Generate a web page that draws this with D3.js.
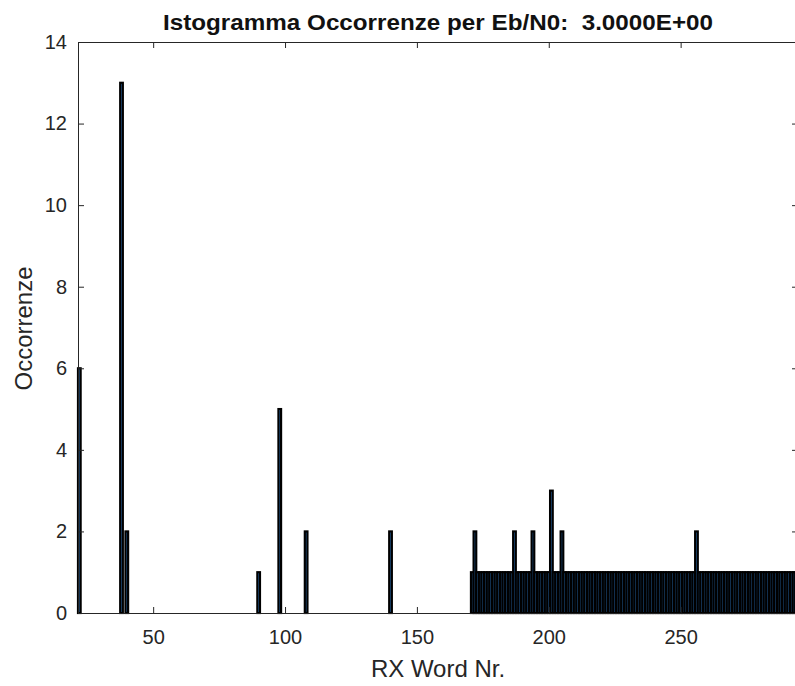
<!DOCTYPE html>
<html>
<head>
<meta charset="utf-8">
<script src="https://cdn.jsdelivr.net/npm/d3@7"></script>
<style>
  body { margin: 0; background: #fff; }
  text { font-family: "Liberation Sans", Arial, Helvetica, sans-serif; }
</style>
</head>
<body>
<div id="chart"></div>
<script>
// data (word number -> occurrences)
var wordNr = [22, 38, 40, 90, 98, 108, 140,
  171, 172, 173, 174, 175, 176, 177, 178, 179, 180,
  181, 182, 183, 184, 185, 186, 187, 188, 189, 190,
  191, 192, 193, 194, 195, 196, 197, 198, 199, 200,
  201, 202, 203, 204, 205, 206, 207, 208, 209, 210,
  211, 212, 213, 214, 215, 216, 217, 218, 219, 220,
  221, 222, 223, 224, 225, 226, 227, 228, 229, 230,
  231, 232, 233, 234, 235, 236, 237, 238, 239, 240,
  241, 242, 243, 244, 245, 246, 247, 248, 249, 250,
  251, 252, 253, 254, 255, 256, 257, 258, 259, 260,
  261, 262, 263, 264, 265, 266, 267, 268, 269, 270,
  271, 272, 273, 274, 275, 276, 277, 278, 279, 280,
  281, 282, 283, 284, 285, 286, 287, 288, 289, 290,
  291, 292, 293, 294];
var occorrenze = [6, 13, 2, 1, 5, 2, 2,
  1, 2, 1, 1, 1, 1, 1, 1, 1, 1,
  1, 1, 1, 1, 1, 1, 2, 1, 1, 1,
  1, 1, 1, 2, 1, 1, 1, 1, 1, 1,
  3, 1, 1, 1, 2, 1, 1, 1, 1, 1,
  1, 1, 1, 1, 1, 1, 1, 1, 1, 1,
  1, 1, 1, 1, 1, 1, 1, 1, 1, 1,
  1, 1, 1, 1, 1, 1, 1, 1, 1, 1,
  1, 1, 1, 1, 1, 1, 1, 1, 1, 1,
  1, 1, 1, 1, 1, 2, 1, 1, 1, 1,
  1, 1, 1, 1, 1, 1, 1, 1, 1, 1,
  1, 1, 1, 1, 1, 1, 1, 1, 1, 1,
  1, 1, 1, 1, 1, 1, 1, 1, 1, 1,
  1, 1, 1, 1];
var xTicks = [50, 100, 150, 200, 250];
var yTicks = [0, 2, 4, 6, 8, 10, 12, 14];
var titolo = "Istogramma Occorrenze per Eb/N0:  3.0000E+00";

var width = 795, height = 686;
// plot box (right edge is just past the window, as in the screenshot)
var pLeft = 78, pRight = 798, pTop = 42, pBottom = 613;
var axisColor = "#262626";

var svg = d3.select("#chart").append("svg").attr("width", width).attr("height", height);

var x = d3.scaleLinear().domain([21.5, 294.5]).range([pLeft, pRight]);
var y = d3.scaleLinear().domain([0, 14]).range([pBottom, pTop]);

var data = wordNr.map(function (w, i) { return { w: w, c: occorrenze[i] }; });

// bars - thick black edges, only a sliver of the blue face shows
svg.append("g").selectAll("rect").data(data).enter().append("rect")
  .attr("x", function (d) { return x(d.w - 0.5); })
  .attr("width", function (d) { return x(d.w + 0.5) - x(d.w - 0.5); })
  .attr("y", function (d) { return y(d.c); })
  .attr("height", function (d) { return y(0) - y(d.c); })
  .attr("fill", "#2b6fb5")
  .attr("stroke", "#000")
  .attr("stroke-width", 2.2);

// axes, ticks pointing inward like matlab
var tickStyle = function (g) {
  g.selectAll("path").attr("stroke", axisColor);
  g.selectAll("line").attr("stroke", axisColor);
  g.selectAll("text").attr("fill", axisColor).style("font-size", "20px");
};
svg.append("g").attr("transform", "translate(0," + pBottom + ")")
  .call(d3.axisBottom(x).tickValues(xTicks).tickSizeInner(-6).tickSizeOuter(0).tickPadding(17))
  .call(tickStyle);
svg.append("g").attr("transform", "translate(0," + pTop + ")")
  .call(d3.axisTop(x).tickValues(xTicks).tickSizeInner(-6).tickSizeOuter(0).tickFormat(""))
  .call(tickStyle);
svg.append("g").attr("transform", "translate(" + pLeft + ",0)")
  .call(d3.axisLeft(y).tickValues(yTicks).tickSizeInner(-6).tickSizeOuter(0).tickPadding(11))
  .call(tickStyle);
svg.append("g").attr("transform", "translate(" + pRight + ",0)")
  .call(d3.axisRight(y).tickValues(yTicks).tickSizeInner(-6).tickSizeOuter(0).tickFormat(""))
  .call(tickStyle);

// title and labels
svg.append("text").attr("x", 438).attr("y", 30).attr("text-anchor", "middle")
  .style("font-size", "22px").style("font-weight", "bold").style("white-space", "pre")
  .attr("textLength", 550).attr("lengthAdjust", "spacingAndGlyphs")
  .attr("fill", "#111").text(titolo);
svg.append("text").attr("x", (pLeft + pRight) / 2).attr("y", 677).attr("text-anchor", "middle")
  .style("font-size", "24px").attr("fill", axisColor).text("RX Word Nr.");
svg.append("text").attr("transform", "translate(32," + ((pTop + pBottom) / 2 + 1) + ")rotate(-90)")
  .attr("text-anchor", "middle").style("font-size", "24px").attr("fill", axisColor).text("Occorrenze");
</script>
</body>
</html>
